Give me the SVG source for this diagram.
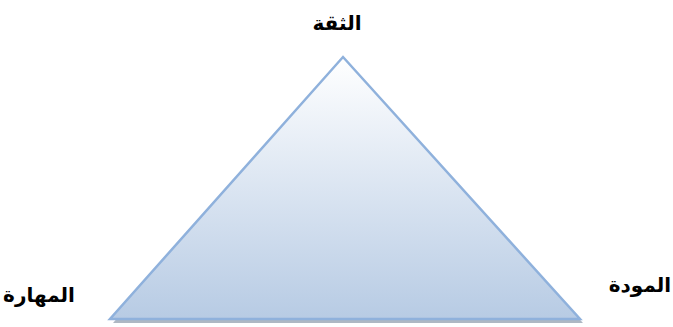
<svg xmlns="http://www.w3.org/2000/svg" width="673" height="327" viewBox="0 0 673 327">
<style>
.lbl{font-family:"DejaVu Sans","Noto Sans",sans-serif;font-weight:bold;font-size:20px;fill:#000;}
</style>
<defs>
<linearGradient id="g" x1="0" y1="0" x2="0" y2="1">
<stop offset="0" stop-color="#ffffff"/>
<stop offset="1" stop-color="#b7cbe4"/>
</linearGradient>
</defs>
<rect width="673" height="327" fill="#ffffff"/>
<g id="shadow">
<polygon points="345,60 583,323 113,323" fill="#8c9aaa" opacity="0.7"/>
</g>
<g id="triangle">
<polygon points="343,57 580,319 110,319" fill="url(#g)" stroke="#8fb1dc" stroke-width="2.5" stroke-linejoin="miter"/>
</g>
<g id="label-top"><text class="lbl" x="337" y="30" text-anchor="middle" direction="rtl">الثقة</text></g>
<g id="label-left"><text class="lbl" x="39" y="302" text-anchor="middle" direction="rtl">المهارة</text></g>
<g id="label-right"><text class="lbl" x="640" y="292" text-anchor="middle" direction="rtl">المودة</text></g>
</svg>
